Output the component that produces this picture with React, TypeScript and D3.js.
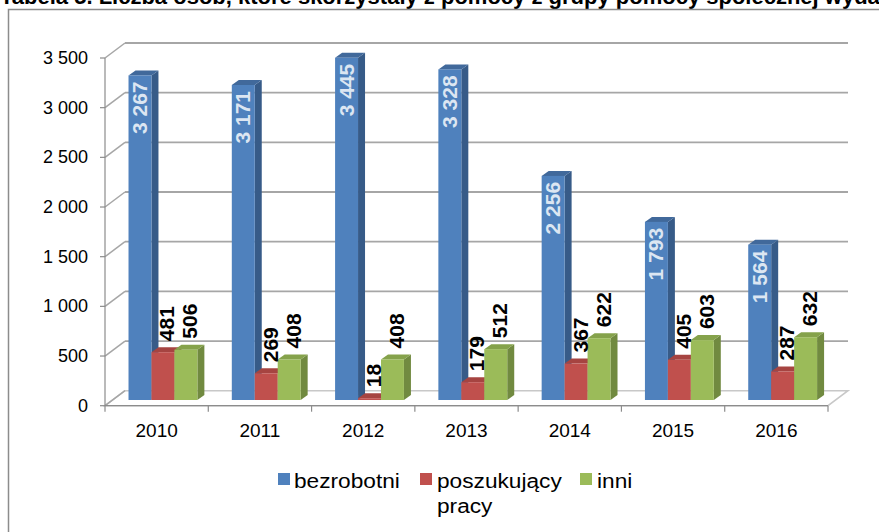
import React from 'react';
import * as d3 from 'd3';

const years = ['2010', '2011', '2012', '2013', '2014', '2015', '2016'];
const bezrobotni = [3267, 3171, 3445, 3328, 2256, 1793, 1564];
const poszukujacy = [481, 269, 18, 179, 367, 405, 287];
const inni = [506, 408, 408, 512, 622, 603, 632];
const yTicks = [0, 500, 1000, 1500, 2000, 2500, 3000, 3500];
const seriesKeys = ['bezrobotni', 'poszukujacy', 'inni'];
const seriesLabels = ['bezrobotni', 'poszukujący', 'inni'];
const titleText = 'Tabela 5. Liczba osób, które skorzystały z pomocy z grupy pomocy społecznej wydanie w latach 2010–2016';

const W = 879;
const H = 532;
const FONT = '"Liberation Sans", Arial, Helvetica, sans-serif';

const colors: Record<string, { front: string; side: string; top: string }> = {
  bezrobotni: { front: '#4f81bd', side: '#375b88', top: '#41699b' },
  poszukujacy: { front: '#c0504d', side: '#8c3a38', top: '#a64441' },
  inni: { front: '#9bbb59', side: '#718a40', top: '#85a24b' },
};

const locale = d3.formatLocale({ thousands: ' ', grouping: [3], decimal: ',', currency: ['', ''] });
const fmt = locale.format(',d');

export default function App() {
  const fx0 = 105;
  const fx1 = 828;
  const depth = { dx: 20, dy: -15 };
  const barPlane = { dx: 6.3, dy: -5.7 };
  const barDepth = { dx: 7, dy: -5 };

  const y = d3.scaleLinear().domain([0, 3500]).range([405.7, 58]);
  const xCat = d3.scaleBand<string>().domain(years).range([fx0, fx1]);
  const step = xCat.bandwidth();
  const off = (step * 0.75) / 4.5;
  const xSer = d3.scaleBand<string>().domain(seriesKeys).range([off, off + (step * 3) / 4.5]);
  const bw = xSer.bandwidth();

  const values: Record<string, number[]> = { bezrobotni, poszukujacy, inni };

  const bars: React.ReactNode[] = [];
  const labels: React.ReactNode[] = [];
  years.forEach((yr, i) => {
    seriesKeys.forEach((k) => {
      const v = values[k][i];
      const x0 = (xCat(yr) as number) + (xSer(k) as number) + barPlane.dx;
      const x1 = x0 + bw;
      const yb = y(0) + barPlane.dy;
      const yt = y(v) + barPlane.dy;
      const c = colors[k];
      const side = `M${x1},${yb} L${x1 + barDepth.dx},${yb + barDepth.dy} L${x1 + barDepth.dx},${yt + barDepth.dy} L${x1},${yt} Z`;
      const top = `M${x0},${yt} L${x1},${yt} L${x1 + barDepth.dx},${yt + barDepth.dy} L${x0 + barDepth.dx},${yt + barDepth.dy} Z`;
      bars.push(
        <g key={`${yr}-${k}`}>
          <path d={side} fill={c.side} />
          <path d={top} fill={c.top} />
          <rect x={x0} y={yt} width={bw} height={yb - yt} fill={c.front} />
        </g>
      );
      const cx = (x0 + x1) / 2;
      if (k === 'bezrobotni') {
        labels.push(
          <text
            key={`l-${yr}-${k}`}
            transform={`translate(${cx - 0.5},${yt + 6}) rotate(-90)`}
            textAnchor="end"
            dominantBaseline="central"
            fontFamily={FONT}
            fontWeight="bold"
            fontSize={21}
            fill="#dce6f2"
          >
            {fmt(v)}
          </text>
        );
      } else {
        labels.push(
          <text
            key={`l-${yr}-${k}`}
            transform={`translate(${cx + 4},${yt - 11}) rotate(-90)`}
            textAnchor="start"
            dominantBaseline="central"
            fontFamily={FONT}
            fontWeight="bold"
            fontSize={21}
            fill="#000"
          >
            {fmt(v)}
          </text>
        );
      }
    });
  });

  const floor = `M${fx0},${y(0)} L${fx1},${y(0)} L${fx1 + depth.dx},${y(0) + depth.dy} L${fx0 + depth.dx},${y(0) + depth.dy} Z`;

  const legendItems = [
    { key: 'bezrobotni', sx: 278, tx: 294 },
    { key: 'poszukujacy', sx: 420, tx: 437 },
    { key: 'inni', sx: 580, tx: 597 },
  ];

  return (
    <svg
      width={W}
      height={H}
      style={{ position: 'absolute', left: 0, top: 0, display: 'block', background: '#fff' }}
    >
      <rect x={0} y={0} width={W} height={H} fill="#fff" />
      <text x={0} y={3.5} fontFamily={FONT} fontWeight="bold" fontSize={22} fill="#000">
        {titleText}
      </text>
      <rect x={8.5} y={9.5} width={1000} height={700} fill="none" stroke="#8c8c8c" strokeWidth={1.5} />

      {/* floor */}
      <path d={floor} fill="#fff" stroke="#c8c8c8" strokeWidth={1.5} />

      {/* gridlines on back wall and side wall */}
      {yTicks.map((t) => (
        <g key={`g-${t}`}>
          {t > 0 && (
            <line
              x1={fx0 + depth.dx}
              x2={fx1 + depth.dx}
              y1={y(t) + depth.dy}
              y2={y(t) + depth.dy}
              stroke="#a6a6a6"
              strokeWidth={1.8}
            />
          )}
          <line
            x1={fx0}
            x2={fx0 + depth.dx}
            y1={y(t)}
            y2={y(t) + depth.dy}
            stroke="#a6a6a6"
            strokeWidth={1.5}
          />
          <line x1={fx0 - 5} x2={fx0} y1={y(t)} y2={y(t)} stroke="#8c8c8c" strokeWidth={1.2} />
          <text
            x={88}
            y={y(t)}
            textAnchor="end"
            dominantBaseline="central"
            fontFamily={FONT}
            fontSize={18}
            fill="#000"
          >
            {fmt(t)}
          </text>
        </g>
      ))}

      {/* axes */}
      <line x1={fx0} x2={fx0} y1={y(0)} y2={y(3500)} stroke="#8c8c8c" strokeWidth={1.2} />
      <line x1={fx0} x2={fx1} y1={y(0)} y2={y(0)} stroke="#8c8c8c" strokeWidth={1.2} />
      {d3.range(years.length + 1).map((i) => (
        <line
          key={`xt-${i}`}
          x1={fx0 + i * step}
          x2={fx0 + i * step}
          y1={y(0)}
          y2={y(0) + 6}
          stroke="#8c8c8c"
          strokeWidth={1.2}
        />
      ))}
      {years.map((yr) => (
        <text
          key={`xl-${yr}`}
          x={(xCat(yr) as number) + step / 2}
          y={437}
          textAnchor="middle"
          fontFamily={FONT}
          fontSize={19}
          fill="#000"
        >
          {yr}
        </text>
      ))}

      {bars}
      {labels}

      {/* legend */}
      {legendItems.map((li, idx) => (
        <g key={`lg-${li.key}`}>
          <rect x={li.sx} y={473} width={12} height={12} fill={colors[li.key].front} />
          <text
            transform={`translate(${li.tx},488) scale(1.08,1)`}
            fontFamily={FONT}
            fontSize={21}
            fill="#000"
          >
            {seriesLabels[idx]}
          </text>
        </g>
      ))}
      <text transform="translate(437,513) scale(1.08,1)" fontFamily={FONT} fontSize={21} fill="#000">
        pracy
      </text>
    </svg>
  );
}
